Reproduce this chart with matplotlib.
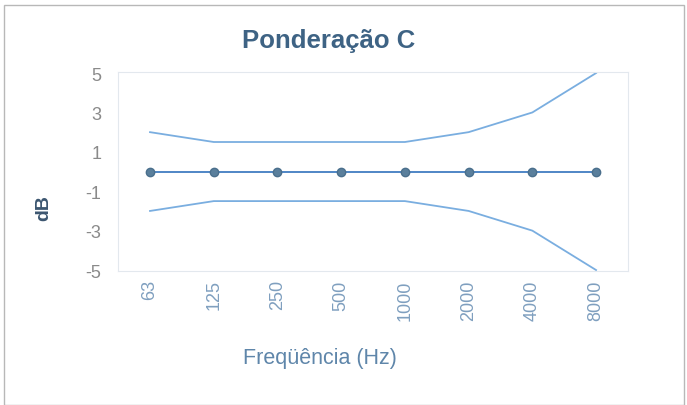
import matplotlib.pyplot as plt

plt.rcParams['font.family'] = ['Liberation Sans', 'DejaVu Sans']
plt.rcParams['axes.unicode_minus'] = False

freqs = ['63', '125', '250', '500', '1000', '2000', '4000', '8000']
upper = [2, 1.5, 1.5, 1.5, 1.5, 2, 3, 5]
lower = [-2, -1.5, -1.5, -1.5, -1.5, -2, -3, -5]
centre = [0, 0, 0, 0, 0, 0, 0, 0]

fig = plt.figure(figsize=(6.87, 4.06), dpi=100)
ax = fig.add_axes([0.172, 0.330, 0.742, 0.490])

x = range(len(freqs))
ax.plot(x, upper, color='#7aaee0', lw=1.3)
ax.plot(x, lower, color='#7aaee0', lw=1.3)
ax.plot(x, centre, color='#4f86c6', lw=1.4, marker='o', ms=6,
        markerfacecolor='#5a7f9c', markeredgecolor='#4a6f8c')

ax.set_xlim(-0.5, 7.5)
ax.set_ylim(-5.05, 5.05)
ax.set_yticks([5, 3, 1, -1, -3, -5])
ax.set_xticks(list(x))
ax.set_xticklabels(freqs, rotation=90, color='#7f9fbf', fontsize=13)
ax.tick_params(axis='y', colors='#8a8a8a', labelsize=13, length=0, pad=12)
ax.tick_params(axis='x', length=0, pad=6)
for s in ax.spines.values():
    s.set_color('#e3e8ee')
    s.set_linewidth(0.8)

fig.text(0.064, 0.488, 'dB', rotation=90, ha='center', va='center',
         fontsize=14, fontweight='bold', color='#3c5670')
fig.text(0.466, 0.118, 'Freqüência (Hz)', ha='center', va='center',
         fontsize=15.5, color='#5f86aa')
fig.text(0.479, 0.898, 'Ponderação C', ha='center', va='center', fontsize=18.5,
         fontweight='bold', color='#3e6384')

# scanned page frame
fig.add_artist(plt.Rectangle((0.006, 0.0), 0.99, 0.985, transform=fig.transFigure,
                             fill=False, edgecolor='#b8b8b8', lw=1.0))

fig.savefig('out.png', dpi=100)
